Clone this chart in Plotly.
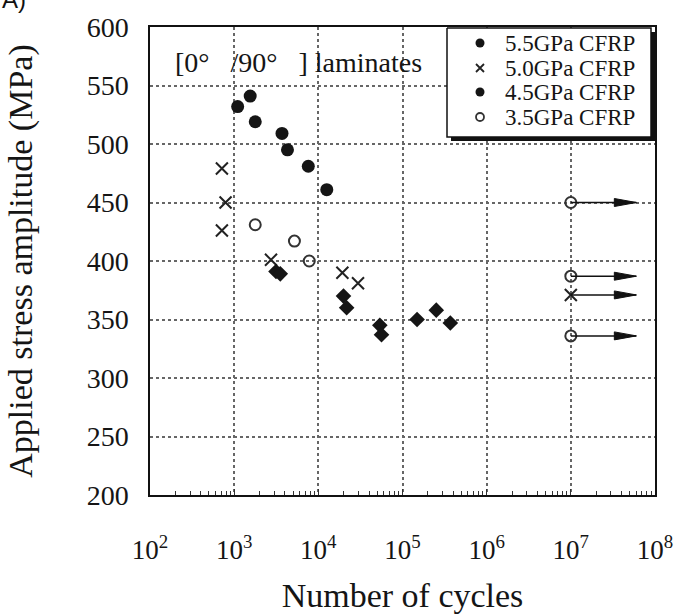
import plotly.graph_objects as go

# ---- data ----
cycles_55 = [1100, 1550, 1780, 3700, 4300, 7600, 12600]
stress_55 = [532, 541, 519, 509, 495, 481, 461]

cycles_50 = [715, 790, 715, 2740, 19300, 29600, 1e7]
stress_50 = [479, 450, 426, 401, 390, 381, 371]

cycles_45 = [3140, 3530, 19900, 21700, 53800, 56300, 149000, 252000, 370000]
stress_45 = [391, 389, 370, 360, 345, 337, 350, 358, 347]

cycles_35 = [1780, 5200, 7800, 1e7, 1e7, 1e7]
stress_35 = [431, 417, 400, 450, 387, 336]

runout_cycles = 1e7
runout_stress = [450, 387, 371, 336]
arrow_tip_cycles = 6.0e7

series_names = ["5.5GPa CFRP", "5.0GPa CFRP", "4.5GPa CFRP", "3.5GPa CFRP"]

x_tickvals = [1e2, 1e3, 1e4, 1e5, 1e6, 1e7, 1e8]
x_ticktext = ["10<sup>2</sup>", "10<sup>3</sup>", "10<sup>4</sup>", "10<sup>5</sup>",
              "10<sup>6</sup>", "10<sup>7</sup>", "10<sup>8</sup>"]
y_tickvals = [200, 250, 300, 350, 400, 450, 500, 550, 600]

SERIF = "Liberation Serif"
INK = "#151515"

styles = [
    dict(symbol="circle", size=13, color=INK),
    dict(symbol="x-thin", size=12, color="#222", line=dict(color="#222", width=2)),
    dict(symbol="diamond", size=12, color=INK),
    dict(symbol="circle-open", size=11, color="#333", line=dict(color="#333", width=2)),
]
legend_styles = [
    dict(symbol="circle", size=9, color=INK),
    dict(symbol="x-thin", size=8, color="#222", line=dict(color="#222", width=1.8)),
    dict(symbol="circle", size=9, color=INK),
    dict(symbol="circle-open", size=8, color="#333", line=dict(color="#333", width=1.8)),
]
data_x = [cycles_55, cycles_50, cycles_45, cycles_35]
data_y = [stress_55, stress_50, stress_45, stress_35]

fig = go.Figure()
for name, xs, ys, st in zip(series_names, data_x, data_y, styles):
    fig.add_trace(go.Scatter(x=xs, y=ys, mode="markers", name=name, marker=st,
                             showlegend=False))

# ---- hand-made legend box (pixel-unit overlay axes) ----
LEG_LEFT, LEG_RIGHT, LEG_TOP, LEG_BOTTOM = 447, 651, 28, 137
SHADOW = 4
leg_rows = [43, 68, 92, 117]
leg_marker_x = 480
leg_text_x = 503

def rect_xy(x0, x1, y0, y1):
    return [x0, x1, x1, x0, x0], [y0, y0, y1, y1, y0]

sx, sy = rect_xy(LEG_LEFT + SHADOW, LEG_RIGHT + SHADOW, LEG_TOP + SHADOW, LEG_BOTTOM + SHADOW)
fig.add_trace(go.Scatter(x=sx, y=sy, xaxis="x2", yaxis="y2", mode="lines", fill="toself",
                         fillcolor="#111", line=dict(color="#111", width=0),
                         showlegend=False, hoverinfo="skip"))
bx, by = rect_xy(LEG_LEFT, LEG_RIGHT, LEG_TOP, LEG_BOTTOM)
fig.add_trace(go.Scatter(x=bx, y=by, xaxis="x2", yaxis="y2", mode="lines", fill="toself",
                         fillcolor="white", line=dict(color="#111", width=1.5),
                         showlegend=False, hoverinfo="skip"))

for name, st, ry in zip(series_names, legend_styles, leg_rows):
    fig.add_trace(go.Scatter(x=[leg_marker_x], y=[ry], xaxis="x2", yaxis="y2", mode="markers",
                             name=name, marker=st, showlegend=False, hoverinfo="skip"))

shapes = []
for s in runout_stress:
    shapes.append(dict(type="line", xref="x", yref="y", x0=runout_cycles, x1=arrow_tip_cycles,
                       y0=s, y1=s, line=dict(color="#111", width=1.5), layer="above"))
    shapes.append(dict(type="path", xref="x", yref="y", xsizemode="pixel", ysizemode="pixel",
                       xanchor=arrow_tip_cycles, yanchor=s,
                       path="M0,0 L-22,4 L-22,-4 Z", fillcolor="#111",
                       line=dict(color="#111", width=1), layer="above"))

annotations = [
    dict(text="[0°&nbsp;&nbsp;&nbsp;/90°&nbsp;&nbsp;&nbsp;] laminates", xref="paper", yref="paper",
         x=0.045, y=0.925, xanchor="left", yanchor="middle", showarrow=False,
         font=dict(family=SERIF, size=28, color=INK)),
    dict(text="A)", xref="paper", yref="paper", x=-0.297, y=1.058, xanchor="left",
         yanchor="middle", showarrow=False,
         font=dict(family="Liberation Sans", size=24, color="#111")),
]
for name, ry in zip(series_names, leg_rows):
    annotations.append(dict(text=name, xref="x2", yref="y2", x=leg_text_x, y=ry,
                            xanchor="left", yanchor="middle", showarrow=False,
                            font=dict(family=SERIF, size=23, color=INK)))

fig.update_layout(
    width=682, height=614,
    margin=dict(l=150, r=27, t=27, b=119),
    paper_bgcolor="white", plot_bgcolor="white",
    font=dict(family=SERIF, color=INK),
    showlegend=False,
    shapes=shapes,
    annotations=annotations,
    xaxis2=dict(overlaying="x", range=[150, 655], visible=False, fixedrange=True),
    yaxis2=dict(overlaying="y", range=[495, 27], visible=False, fixedrange=True),
)

fig.update_layout(xaxis=dict(
    type="log", range=[2, 8],
    tickvals=x_tickvals, ticktext=x_ticktext,
    tickfont=dict(family=SERIF, size=27, color=INK),
    ticks="inside", ticklen=6, tickcolor="#333", tickwidth=1,
    ticklabelstandoff=30,
    minor=dict(ticks="inside", ticklen=4, tickcolor="#333", tickwidth=1, dtick="D1", showgrid=False),
    showgrid=True, gridcolor="#666", gridwidth=1.6, griddash="dot",
    showline=True, linecolor="#111", linewidth=1.5, mirror=True,
    zeroline=False, automargin=False,
    title=dict(text="Number of cycles", font=dict(family=SERIF, size=34, color=INK), standoff=22),
))
fig.update_layout(yaxis=dict(
    range=[200, 600], tickvals=y_tickvals,
    tickfont=dict(family=SERIF, size=28, color=INK),
    ticks="", ticklabelstandoff=14,
    showgrid=True, gridcolor="#666", gridwidth=1.6, griddash="dot",
    showline=True, linecolor="#111", linewidth=1.5, mirror=True,
    zeroline=False, automargin=False,
    title=dict(text="Applied stress amplitude (MPa)", font=dict(family=SERIF, size=34, color=INK),
               standoff=44),
))

fig.write_html("out.html")
